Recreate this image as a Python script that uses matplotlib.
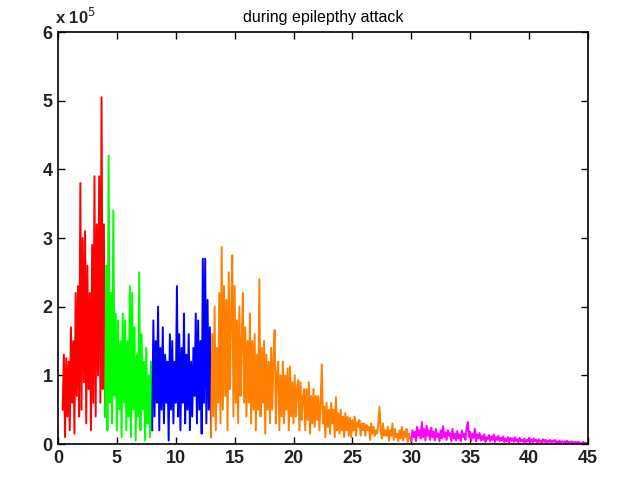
import matplotlib.pyplot as plt
import numpy as np

# power spectrum, units of 1e5, sampled every 0.1 Hz
f_start = 0.4
f_step = 0.1

delta = [0.5, 1.3, 0.1, 1.25, 0.4, 1.2, 0.2, 1.7, 0.6, 1.5,
         0.15, 2.2, 0.7, 2.3, 0.4, 3.8, 0.5, 3.0, 0.9, 3.1,
         0.3, 2.6, 0.8, 2.2, 0.2, 2.9, 0.6, 3.9, 0.4, 3.2,
         1.0, 3.9, 0.6, 5.05, 0.8, 3.2]
theta = [0.4, 2.6, 0.2, 4.2, 0.6, 2.2, 0.3, 3.4, 0.7, 1.9,
         0.2, 1.8, 0.5, 1.5, 0.1, 1.9, 0.6, 1.8, 0.2, 1.5,
         0.4, 2.3, 0.1, 2.2, 0.5, 1.7, 0.05, 1.3, 0.4, 2.5,
         0.2, 1.6, 0.5, 1.2, 0.05, 1.4, 0.3, 1.0, 0.1, 1.2]
alpha = [0.2, 1.8, 0.4, 1.5, 0.6, 2.0, 0.2, 1.4, 0.5, 1.7,
         0.3, 1.3, 0.6, 1.2, 0.05, 1.6, 0.5, 1.5, 0.3, 1.2,
         0.6, 2.3, 0.4, 1.6, 0.2, 1.4, 0.6, 1.9, 0.3, 1.3,
         0.5, 1.6, 0.2, 1.2, 0.4, 1.4, 0.7, 1.9, 0.3, 1.8,
         0.5, 1.5, 0.15, 2.7, 0.6, 2.7, 0.3, 2.1, 0.5, 1.7]
beta = [0.1, 1.6, 0.4, 2.0, 0.2, 1.4, 0.6, 2.2, 0.3, 2.87,
        0.5, 2.3, 0.7, 2.1, 0.2, 2.5, 0.8, 1.9, 2.75, 0.4,
        2.3, 0.6, 1.8, 0.3, 2.0, 0.7, 1.5, 2.2, 0.6, 1.7,
        0.4, 1.5, 0.6, 1.9, 0.3, 1.5, 0.5, 1.6, 0.2, 1.3,
        0.5, 2.4, 0.4, 1.4, 0.6, 1.5, 0.15, 1.3, 0.5, 1.2,
        0.3, 1.4, 0.5, 1.3, 1.66, 0.3, 1.0, 1.2, 0.2, 1.0,
        0.4, 1.2, 0.3, 1.0, 0.5, 1.1, 0.2, 1.13, 0.4, 0.9,
        0.3, 1.0, 0.4, 0.8, 0.93, 0.2, 0.9, 0.35, 0.7, 0.8,
        0.2, 0.8, 0.35, 0.9, 0.15, 0.7, 0.3, 0.8, 0.25, 0.7,
        0.35, 0.7, 0.2, 0.6, 1.16, 0.3, 0.55, 0.1, 0.6, 0.25,
        0.5, 0.15, 0.6, 0.3, 0.5, 0.1, 0.68, 0.2, 0.45, 0.15,
        0.5, 0.2, 0.4, 0.1, 0.45, 0.2, 0.4, 0.12, 0.38, 0.1,
        0.35, 0.2, 0.4, 0.12, 0.32, 0.25, 0.35, 0.12, 0.3, 0.2,
        0.3, 0.12, 0.28, 0.2, 0.25, 0.06, 0.3, 0.15, 0.25, 0.12,
        0.2, 0.15, 0.3, 0.54, 0.2, 0.08, 0.3, 0.12, 0.2, 0.12,
        0.25, 0.05, 0.2, 0.12, 0.3, 0.06, 0.22, 0.1, 0.15, 0.04,
        0.2, 0.08, 0.25, 0.05, 0.18, 0.1, 0.22, 0.03, 0.15, 0.08]
gamma = [0.05, 0.2, 0.1, 0.18, 0.04, 0.25, 0.12, 0.2, 0.08, 0.32,
         0.1, 0.22, 0.05, 0.27, 0.12, 0.2, 0.06, 0.24, 0.1, 0.18,
         0.05, 0.22, 0.1, 0.15, 0.04, 0.2, 0.08, 0.26, 0.1, 0.17,
         0.06, 0.2, 0.12, 0.16, 0.04, 0.22, 0.08, 0.15, 0.05, 0.19,
         0.08, 0.14, 0.04, 0.2, 0.1, 0.15, 0.06, 0.24, 0.32, 0.1,
         0.18, 0.05, 0.15, 0.09, 0.22, 0.04, 0.14, 0.08, 0.16, 0.05,
         0.12, 0.06, 0.14, 0.03, 0.1, 0.07, 0.13, 0.04, 0.11, 0.06,
         0.14, 0.03, 0.1, 0.06, 0.12, 0.04, 0.09, 0.05, 0.11, 0.03,
         0.08, 0.04, 0.1, 0.02, 0.09, 0.05, 0.08, 0.03, 0.1, 0.04,
         0.07, 0.02, 0.09, 0.04, 0.06, 0.03, 0.08, 0.02, 0.06, 0.04,
         0.09, 0.03, 0.07, 0.02, 0.08, 0.04, 0.06, 0.02, 0.07, 0.03,
         0.05, 0.02, 0.07, 0.03, 0.06, 0.02, 0.05, 0.03, 0.06, 0.02,
         0.05, 0.03, 0.06, 0.02, 0.04, 0.01, 0.05, 0.02, 0.04, 0.03,
         0.04, 0.01, 0.05, 0.02, 0.03, 0.02, 0.04, 0.01, 0.03, 0.02,
         0.03, 0.01, 0.03, 0.02, 0.02, 0.01, 0.03, 0.01, 0.02, 0.01]

bands = [delta, theta, alpha, beta, gamma]
colors = ['#ff0000', '#00ff00', '#0000ff', '#ff8000', '#ff00ff']

power = np.concatenate([np.array(b) for b in bands]) * 1e5
freq = f_start + f_step * np.arange(len(power))

plt.rcParams['font.family'] = ['Liberation Sans', 'DejaVu Sans']
fig = plt.figure(figsize=(6.2, 4.86), dpi=100)
ax = fig.add_axes([0.0935, 0.0864, 0.8548, 0.8477])

i0 = 0
for b, c in zip(bands, colors):
    i1 = i0 + len(b)
    ax.plot(freq[i0:i1 + 1], power[i0:i1 + 1], color=c, lw=1.4)
    i0 = i1

ax.set_xlim(0, 45)
ax.set_ylim(0, 6e5)
ax.set_xticks(np.arange(0, 46, 5))
ax.set_yticks(np.arange(0, 7e5, 1e5))
ax.set_yticklabels([str(i) for i in range(7)])
ax.tick_params(direction='in', top=True, right=True, length=5, width=1,
               labelsize=13, pad=4)
for lab in ax.get_xticklabels() + ax.get_yticklabels():
    lab.set_fontweight('bold')
    lab.set_color('#222222')
for s in ax.spines.values():
    s.set_linewidth(1.2)
ax.set_title('during epilepthy attack', fontsize=11.5, pad=7)
fig.text(0.088, 0.945, 'x 10$^{5}$', fontsize=12, ha='left', va='bottom',
         fontweight='bold', color='#222222')

fig.savefig('out.png')
